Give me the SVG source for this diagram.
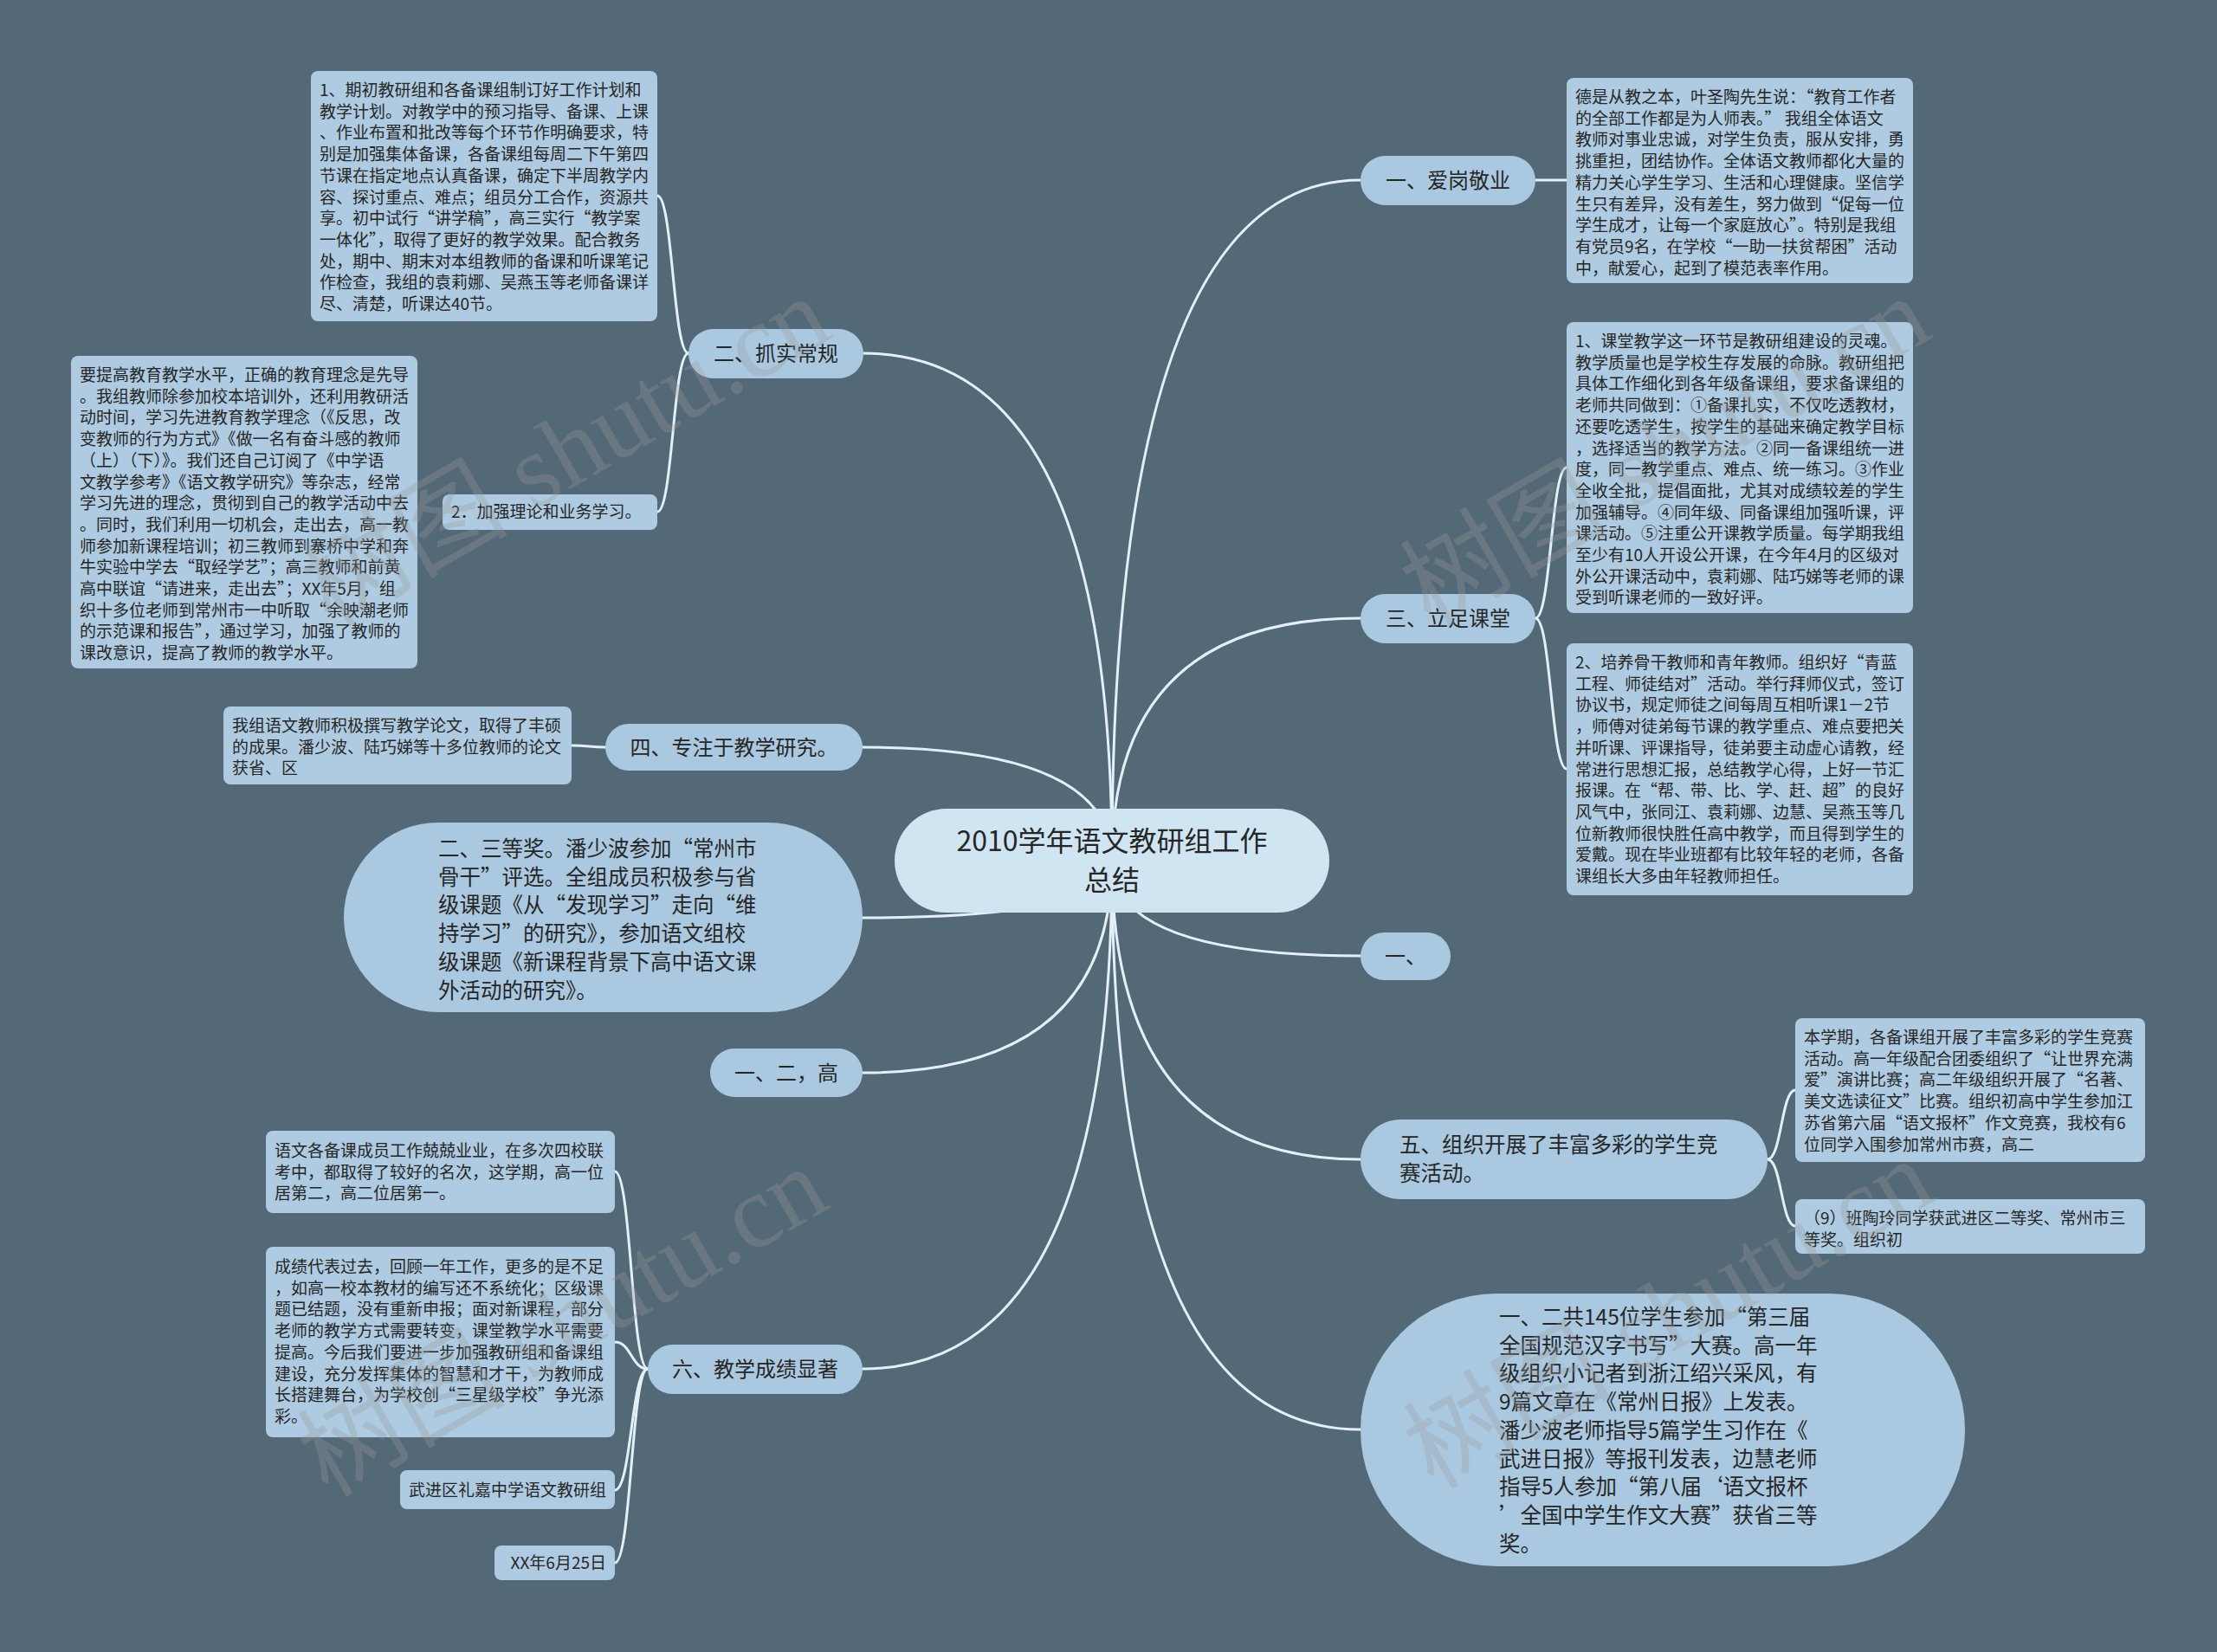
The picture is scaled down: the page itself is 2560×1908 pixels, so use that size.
<svg xmlns="http://www.w3.org/2000/svg" width="2560" height="1908" viewBox="0 0 2560 1908">
<style>
.pill{fill:#aac9e0}
.box{fill:#aecbe1}
.ctr{fill:#cfe5f2}
.t{font-family:"Noto Sans CJK SC","Noto Sans",sans-serif;fill:#262626}
.s{font-size:19px}
.m{font-size:24px}
.l{font-size:24.5px}
.c{font-size:32px}
.link{fill:none;stroke:#e2f0f8;stroke-width:3;stroke-linecap:round}
.wm{font-family:"Liberation Serif","Noto Sans CJK SC",serif;font-size:120px;fill:#9a9a9a;opacity:0.3}
</style>
<rect x="0" y="0" width="2560" height="1908" fill="#546978"/>
<g id="connectors">
<path class="link" d="M1284 994 Q1284 208 1571 208"/>
<path class="link" d="M1284 994 Q1284 714 1571 714"/>
<path class="link" d="M1284 994 Q1284 1104 1571 1104"/>
<path class="link" d="M1284 994 Q1284 1339 1571 1339"/>
<path class="link" d="M1284 994 Q1284 1651 1571 1651"/>
<path class="link" d="M1284 994 Q1284 408 997 408"/>
<path class="link" d="M1284 994 Q1284 863 996 863"/>
<path class="link" d="M1284 994 Q1284 1060 996 1060"/>
<path class="link" d="M1284 994 Q1284 1239 996 1239"/>
<path class="link" d="M1284 994 Q1284 1581 996 1581"/>
<path class="link" d="M795 408 C777 408 777 226 759 226"/>
<path class="link" d="M795 408 C777 408 777 591 759 591"/>
<path class="link" d="M699 863 C680 863 680 861 660 861"/>
<path class="link" d="M1773 208 L1809 208"/>
<path class="link" d="M1773 714 C1791 714 1791 540 1809 540"/>
<path class="link" d="M1773 714 C1791 714 1791 888 1809 888"/>
<path class="link" d="M2041 1339 C2057 1339 2057 1259 2073 1259"/>
<path class="link" d="M2041 1339 C2057 1339 2057 1416 2073 1416"/>
<path class="link" d="M748 1581 C729 1581 729 1353 710 1353"/>
<path class="link" d="M748 1581 C729 1581 729 1550 710 1550"/>
<path class="link" d="M748 1581 C729 1581 729 1721 710 1721"/>
<path class="link" d="M748 1581 C729 1581 729 1805 710 1805"/>
</g>
<g id="center">
<rect class="ctr" x="1033" y="934" width="502" height="120" rx="60"/>
<text class="t c" text-anchor="middle"><tspan x="1284" y="983">2010学年语文教研组工作</tspan><tspan x="1284" y="1028">总结</tspan></text>
</g>
<g id="n-aigang">
<rect class="pill" x="1571" y="180" width="202" height="57" rx="28.5"/>
<text class="t m" x="1672" y="217" text-anchor="middle">一、爱岗敬业</text>
</g>
<g id="n-aigang-box">
<rect class="box" x="1809" y="90" width="400" height="237" rx="8"/>
<text class="t s"><tspan x="1819" y="119">德是从教之本，叶圣陶先生说：“教育工作者</tspan><tspan x="1819" dy="24.7">的全部工作都是为人师表。” 我组全体语文</tspan><tspan x="1819" dy="24.7">教师对事业忠诚，对学生负责，服从安排，勇</tspan><tspan x="1819" dy="24.7">挑重担，团结协作。全体语文教师都化大量的</tspan><tspan x="1819" dy="24.7">精力关心学生学习、生活和心理健康。坚信学</tspan><tspan x="1819" dy="24.7">生只有差异，没有差生，努力做到“促每一位</tspan><tspan x="1819" dy="24.7">学生成才，让每一个家庭放心”。特别是我组</tspan><tspan x="1819" dy="24.7">有党员9名，在学校“一助一扶贫帮困”活动</tspan><tspan x="1819" dy="24.7">中，献爱心，起到了模范表率作用。</tspan></text>
</g>
<g id="n-lizu">
<rect class="pill" x="1571" y="686" width="202" height="57" rx="28.5"/>
<text class="t m" x="1672" y="723" text-anchor="middle">三、立足课堂</text>
</g>
<g id="n-lizu-box1">
<rect class="box" x="1809" y="372" width="400" height="336" rx="8"/>
<text class="t s"><tspan x="1819" y="401">1、课堂教学这一环节是教研组建设的灵魂。</tspan><tspan x="1819" dy="24.7">教学质量也是学校生存发展的命脉。教研组把</tspan><tspan x="1819" dy="24.7">具体工作细化到各年级备课组，要求备课组的</tspan><tspan x="1819" dy="24.7">老师共同做到：①备课扎实，不仅吃透教材，</tspan><tspan x="1819" dy="24.7">还要吃透学生，按学生的基础来确定教学目标</tspan><tspan x="1819" dy="24.7">，选择适当的教学方法。②同一备课组统一进</tspan><tspan x="1819" dy="24.7">度，同一教学重点、难点、统一练习。③作业</tspan><tspan x="1819" dy="24.7">全收全批，提倡面批，尤其对成绩较差的学生</tspan><tspan x="1819" dy="24.7">加强辅导。④同年级、同备课组加强听课，评</tspan><tspan x="1819" dy="24.7">课活动。⑤注重公开课教学质量。每学期我组</tspan><tspan x="1819" dy="24.7">至少有10人开设公开课，在今年4月的区级对</tspan><tspan x="1819" dy="24.7">外公开课活动中，袁莉娜、陆巧娣等老师的课</tspan><tspan x="1819" dy="24.7">受到听课老师的一致好评。</tspan></text>
</g>
<g id="n-lizu-box2">
<rect class="box" x="1809" y="743" width="400" height="291" rx="8"/>
<text class="t s"><tspan x="1819" y="772">2、培养骨干教师和青年教师。组织好“青蓝</tspan><tspan x="1819" dy="24.7">工程、师徒结对”活动。举行拜师仪式，签订</tspan><tspan x="1819" dy="24.7">协议书，规定师徒之间每周互相听课1－2节</tspan><tspan x="1819" dy="24.7">，师傅对徒弟每节课的教学重点、难点要把关</tspan><tspan x="1819" dy="24.7">并听课、评课指导，徒弟要主动虚心请教，经</tspan><tspan x="1819" dy="24.7">常进行思想汇报，总结教学心得，上好一节汇</tspan><tspan x="1819" dy="24.7">报课。在“帮、带、比、学、赶、超”的良好</tspan><tspan x="1819" dy="24.7">风气中，张同江、袁莉娜、边慧、吴燕玉等几</tspan><tspan x="1819" dy="24.7">位新教师很快胜任高中教学，而且得到学生的</tspan><tspan x="1819" dy="24.7">爱戴。现在毕业班都有比较年轻的老师，各备</tspan><tspan x="1819" dy="24.7">课组长大多由年轻教师担任。</tspan></text>
</g>
<g id="n-yi">
<rect class="pill" x="1571" y="1077" width="104" height="55" rx="27.5"/>
<text class="t m" x="1623" y="1113" text-anchor="middle">一、</text>
</g>
<g id="n-wu">
<rect class="pill" x="1571" y="1293" width="470" height="92" rx="46"/>
<text class="t l"><tspan x="1616" y="1331">五、组织开展了丰富多彩的学生竞</tspan><tspan x="1616" y="1364">赛活动。</tspan></text>
</g>
<g id="n-wu-box1">
<rect class="box" x="2073" y="1176" width="404" height="166" rx="8"/>
<text class="t s"><tspan x="2083" y="1205">本学期，各备课组开展了丰富多彩的学生竞赛</tspan><tspan x="2083" dy="24.7">活动。高一年级配合团委组织了“让世界充满</tspan><tspan x="2083" dy="24.7">爱”演讲比赛；高二年级组织开展了“名著、</tspan><tspan x="2083" dy="24.7">美文选读征文”比赛。组织初高中学生参加江</tspan><tspan x="2083" dy="24.7">苏省第六届“语文报杯”作文竞赛，我校有6</tspan><tspan x="2083" dy="24.7">位同学入围参加常州市赛，高二</tspan></text>
</g>
<g id="n-wu-box2">
<rect class="box" x="2073" y="1385" width="404" height="63" rx="8"/>
<text class="t s"><tspan x="2083" y="1414">（9）班陶玲同学获武进区二等奖、常州市三</tspan><tspan x="2083" dy="24.7">等奖。组织初</tspan></text>
</g>
<g id="n-blob-right">
<rect class="pill" x="1571" y="1494" width="698" height="315" rx="157.5"/>
<text class="t l"><tspan x="1731" y="1530">一、二共145位学生参加“第三届</tspan><tspan x="1731" dy="32.7">全国规范汉字书写”大赛。高一年</tspan><tspan x="1731" dy="32.7">级组织小记者到浙江绍兴采风，有</tspan><tspan x="1731" dy="32.7">9篇文章在《常州日报》上发表。</tspan><tspan x="1731" dy="32.7">潘少波老师指导5篇学生习作在《</tspan><tspan x="1731" dy="32.7">武进日报》等报刊发表，边慧老师</tspan><tspan x="1731" dy="32.7">指导5人参加“第八届‘语文报杯</tspan><tspan x="1731" dy="32.7">’全国中学生作文大赛”获省三等</tspan><tspan x="1731" dy="32.7">奖。</tspan></text>
</g>
<g id="n-zhuashi">
<rect class="pill" x="795" y="380" width="202" height="57" rx="28.5"/>
<text class="t m" x="896" y="417" text-anchor="middle">二、抓实常规</text>
</g>
<g id="n-zhuashi-box1">
<rect class="box" x="359" y="82" width="400" height="289" rx="8"/>
<text class="t s"><tspan x="369" y="111">1、期初教研组和各备课组制订好工作计划和</tspan><tspan x="369" dy="24.7">教学计划。对教学中的预习指导、备课、上课</tspan><tspan x="369" dy="24.7">、作业布置和批改等每个环节作明确要求，特</tspan><tspan x="369" dy="24.7">别是加强集体备课，各备课组每周二下午第四</tspan><tspan x="369" dy="24.7">节课在指定地点认真备课，确定下半周教学内</tspan><tspan x="369" dy="24.7">容、探讨重点、难点；组员分工合作，资源共</tspan><tspan x="369" dy="24.7">享。初中试行“讲学稿”，高三实行“教学案</tspan><tspan x="369" dy="24.7">一体化”，取得了更好的教学效果。配合教务</tspan><tspan x="369" dy="24.7">处，期中、期末对本组教师的备课和听课笔记</tspan><tspan x="369" dy="24.7">作检查，我组的袁莉娜、吴燕玉等老师备课详</tspan><tspan x="369" dy="24.7">尽、清楚，听课达40节。</tspan></text>
</g>
<g id="n-zhuashi-box2">
<rect class="box" x="511" y="571" width="248" height="41" rx="8"/>
<text class="t s" x="521" y="598">2．加强理论和业务学习。</text>
</g>
<g id="n-zhuashi-box3">
<rect class="box" x="82" y="411" width="400" height="361" rx="8"/>
<text class="t s"><tspan x="92" y="440">要提高教育教学水平，正确的教育理念是先导</tspan><tspan x="92" dy="24.7">。我组教师除参加校本培训外，还利用教研活</tspan><tspan x="92" dy="24.7">动时间，学习先进教育教学理念（《反思，改</tspan><tspan x="92" dy="24.7">变教师的行为方式》《做一名有奋斗感的教师</tspan><tspan x="92" dy="24.7">（上）（下）》。我们还自己订阅了《中学语</tspan><tspan x="92" dy="24.7">文教学参考》《语文教学研究》等杂志，经常</tspan><tspan x="92" dy="24.7">学习先进的理念，贯彻到自己的教学活动中去</tspan><tspan x="92" dy="24.7">。同时，我们利用一切机会，走出去，高一教</tspan><tspan x="92" dy="24.7">师参加新课程培训；初三教师到寨桥中学和奔</tspan><tspan x="92" dy="24.7">牛实验中学去“取经学艺”；高三教师和前黄</tspan><tspan x="92" dy="24.7">高中联谊“请进来，走出去”；XX年5月，组</tspan><tspan x="92" dy="24.7">织十多位老师到常州市一中听取“余映潮老师</tspan><tspan x="92" dy="24.7">的示范课和报告”，通过学习，加强了教师的</tspan><tspan x="92" dy="24.7">课改意识，提高了教师的教学水平。</tspan></text>
</g>
<g id="n-si">
<rect class="pill" x="699" y="836" width="297" height="54" rx="27"/>
<text class="t m" x="847.5" y="872" text-anchor="middle">四、专注于教学研究。</text>
</g>
<g id="n-si-box">
<rect class="box" x="258" y="816" width="402" height="90" rx="8"/>
<text class="t s"><tspan x="268" y="845">我组语文教师积极撰写教学论文，取得了丰硕</tspan><tspan x="268" dy="24.7">的成果。潘少波、陆巧娣等十多位教师的论文</tspan><tspan x="268" dy="24.7">获省、区</tspan></text>
</g>
<g id="n-blob-left">
<rect class="pill" x="397" y="950" width="599" height="219" rx="109.5"/>
<text class="t l"><tspan x="506" y="989">二、三等奖。潘少波参加“常州市</tspan><tspan x="506" dy="32.7">骨干”评选。全组成员积极参与省</tspan><tspan x="506" dy="32.7">级课题《从“发现学习”走向“维</tspan><tspan x="506" dy="32.7">持学习”的研究》，参加语文组校</tspan><tspan x="506" dy="32.7">级课题《新课程背景下高中语文课</tspan><tspan x="506" dy="32.7">外活动的研究》。</tspan></text>
</g>
<g id="n-yiergao">
<rect class="pill" x="820" y="1211" width="176" height="56" rx="28"/>
<text class="t m" x="908" y="1248" text-anchor="middle">一、二，高</text>
</g>
<g id="n-liu">
<rect class="pill" x="748" y="1553" width="248" height="57" rx="28.5"/>
<text class="t m" x="872" y="1590" text-anchor="middle">六、教学成绩显著</text>
</g>
<g id="n-liu-box1">
<rect class="box" x="307" y="1306" width="403" height="95" rx="8"/>
<text class="t s"><tspan x="317" y="1336">语文各备课成员工作兢兢业业，在多次四校联</tspan><tspan x="317" dy="24.7">考中，都取得了较好的名次，这学期，高一位</tspan><tspan x="317" dy="24.7">居第二，高二位居第一。</tspan></text>
</g>
<g id="n-liu-box2">
<rect class="box" x="307" y="1440" width="403" height="220" rx="8"/>
<text class="t s"><tspan x="317" y="1470">成绩代表过去，回顾一年工作，更多的是不足</tspan><tspan x="317" dy="24.7">，如高一校本教材的编写还不系统化；区级课</tspan><tspan x="317" dy="24.7">题已结题，没有重新申报；面对新课程，部分</tspan><tspan x="317" dy="24.7">老师的教学方式需要转变，课堂教学水平需要</tspan><tspan x="317" dy="24.7">提高。今后我们要进一步加强教研组和备课组</tspan><tspan x="317" dy="24.7">建设，充分发挥集体的智慧和才干，为教师成</tspan><tspan x="317" dy="24.7">长搭建舞台，为学校创“三星级学校”争光添</tspan><tspan x="317" dy="24.7">彩。</tspan></text>
</g>
<g id="n-liu-box3">
<rect class="box" x="462" y="1698" width="248" height="45" rx="8"/>
<text class="t s" x="700" y="1728" text-anchor="end">武进区礼嘉中学语文教研组</text>
</g>
<g id="n-liu-box4">
<rect class="box" x="571" y="1785" width="139" height="40" rx="8"/>
<text class="t s" x="700" y="1812" text-anchor="end">XX年6月25日</text>
</g>
<g id="watermarks">
<text class="wm" x="653" y="562" text-anchor="middle" transform="rotate(-30 653 522)">树图 shutu.cn</text>
<text class="wm" x="1923" y="562" text-anchor="middle" transform="rotate(-30 1923 522)">树图 shutu.cn</text>
<text class="wm" x="650" y="1567" text-anchor="middle" transform="rotate(-30 650 1527)">树图 shutu.cn</text>
<text class="wm" x="1927" y="1558" text-anchor="middle" transform="rotate(-30 1927 1518)">树图 shutu.cn</text>
</g>
</svg>
